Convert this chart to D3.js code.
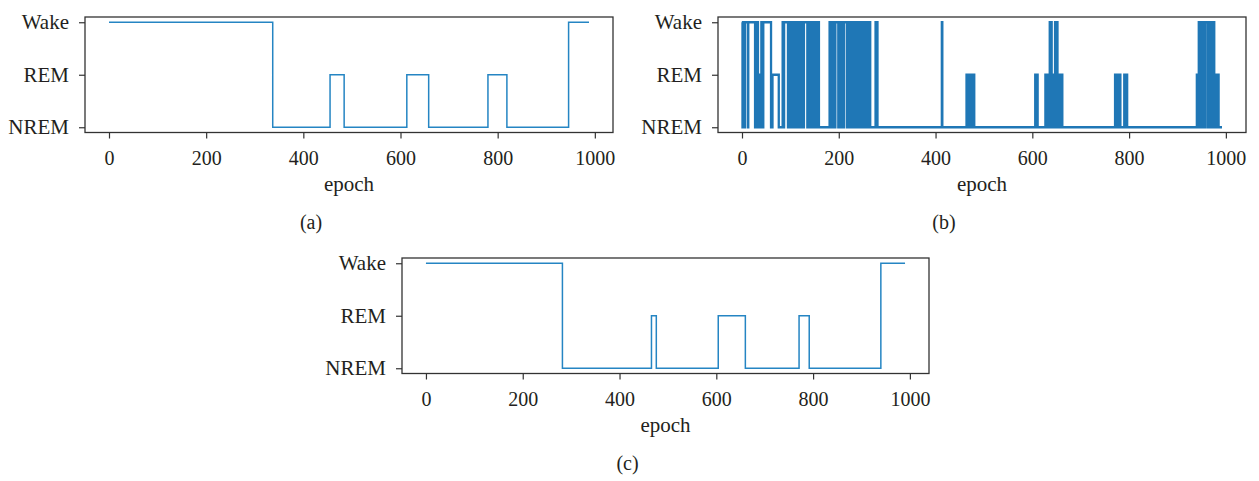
<!DOCTYPE html>
<html>
<head>
<meta charset="utf-8">
<script src="https://cdn.jsdelivr.net/npm/d3@7"></script>
<style>
  html, body { margin: 0; padding: 0; background: #fff; }
  svg { display: block; }
  text { font-family: "Liberation Serif", "Times New Roman", serif; fill: #231f20; }
</style>
</head>
<body>
<svg id="chart" width="1259" height="481"></svg>
<script>
// ---- data ----
const stateLabels = ["NREM", "REM", "Wake"];   // 0, 1, 2
const xTicks = [0, 200, 400, 600, 800, 1000];
const xLabel = "epoch";
const panelLabels = ["(a)", "(b)", "(c)"];

// runs: [start epoch, state index]
const runsA = [[0,2],[337,0],[455,1],[484,0],[613,1],[658,0],[780,1],[819,0],[946,2]];
const endA = 988;

const runsB = [
  [0,2],[1,0],[2,2],[3,0],[4,2],[5,0],[6,2],[12,0],[13,2],[27,0],[30,2],[33,0],[36,1],[38,0],[40,2],[42,0],[44,2],[60,0],[63,1],[76,0],
  [84,2],[86,0],[87,2],[95,0],[96,2],[98,0],[99,2],[101,0],[103,2],[104,0],[106,2],[107,0],[108,2],[109,0],[110,2],[111,0],[112,2],[113,0],[114,2],[118,0],[119,2],[121,0],[122,2],[123,0],[124,2],[125,0],[126,2],[127,0],[128,2],[135,0],[136,2],[137,0],[138,2],[139,0],[140,2],[141,0],[142,2],[143,0],[144,2],[145,0],[146,2],[147,0],[148,2],[149,0],[150,2],[151,0],[152,2],[153,0],[154,2],[155,0],[156,2],[157,0],[158,2],[159,0],
  [181,2],[182,0],[184,2],[186,0],[187,2],[189,0],[190,2],[192,0],[193,2],[199,0],[200,2],[202,0],[203,2],[205,0],[206,2],[207,0],[208,2],[210,0],[211,2],[217,0],[218,2],[219,0],[220,2],[222,0],[223,2],[224,0],[225,2],[226,0],[227,2],[228,0],[229,2],[230,0],[232,2],[233,0],[234,2],[235,0],[236,1],[237,2],[238,0],[239,2],[240,0],[241,2],[242,0],[243,2],[244,0],[245,2],[246,0],[247,2],[248,0],[249,2],[250,0],[251,2],[252,0],[253,2],[255,0],[256,2],[257,0],[258,2],[259,0],[260,2],[261,0],[263,2],[265,0],[276,2],[280,0],
  [413,2],[414,0],
  [464,1],[466,0],[467,1],[468,0],[469,1],[471,0],[472,1],[474,0],[475,1],[477,0],[478,1],[480,0],
  [606,1],[608,0],[609,1],[611,0],
  [627,1],[629,0],[630,1],[632,0],[633,1],[635,0],[636,2],[637,0],[638,2],[640,1],[641,0],[642,1],[644,0],[645,1],[647,2],[648,0],[650,2],[652,1],[653,0],[654,1],[655,0],[656,1],[657,0],[658,1],[660,0],[661,1],[662,0],
  [771,1],[773,0],[774,1],[776,0],[777,1],[779,0],[780,1],[782,0],[790,1],[792,0],[793,1],[796,0],
  [940,1],[942,0],[943,1],[944,2],[945,0],[946,2],[947,0],[948,2],[949,0],[950,2],[951,0],[952,2],[953,0],[954,2],[955,0],[956,2],[957,0],[958,2],[963,0],[964,2],[965,0],[966,2],[967,0],[968,2],[972,0],[973,2],[974,0],[975,2],[976,0],[977,1],[978,0],[979,1],[980,0],[981,1],[983,0],[984,1],[985,0]
];
const endB = 992;

const runsC = [[0,2],[282,0],[466,1],[476,0],[604,1],[660,0],[771,1],[792,0],[940,2]];
const endC = 990;

// ---- layout ----
const panels = [
  { runs: runsA, end: endA, label: panelLabels[0], x0: 85,  x1: 613,  y0: 17,  y1: 132.5, sw: 1.5, color: "#2585c3", labelX: 311 },
  { runs: runsB, end: endB, label: panelLabels[1], x0: 718, x1: 1246, y0: 17,  y1: 132.5, sw: 2.3, color: "#1f77b6", labelX: 944 },
  { runs: runsC, end: endC, label: panelLabels[2], x0: 402, x1: 929,  y0: 258, y1: 373.5, sw: 1.5, color: "#2585c3", labelX: 627.5 }
];

const svg = d3.select("#chart");

panels.forEach(p => {
  const pad = p.end * 0.05;
  const x = d3.scaleLinear().domain([-pad, p.end + pad]).range([p.x0, p.x1]);
  const y = d3.scaleLinear().domain([-0.1, 2.1]).range([p.y1, p.y0]);

  const pts = p.runs.map(r => ({ e: r[0], s: r[1] }));
  pts.push({ e: p.end, s: p.runs[p.runs.length - 1][1] });

  const g = svg.append("g");

  const line = d3.line().x(d => x(d.e)).y(d => y(d.s)).curve(d3.curveStepAfter);
  g.append("path").datum(pts)
    .attr("d", line)
    .attr("fill", "none")
    .attr("stroke", p.color)
    .attr("stroke-width", p.sw)
    .attr("stroke-linejoin", "miter");

  // x axis
  const xa = g.append("g").attr("transform", `translate(0,${p.y1})`)
    .call(d3.axisBottom(x).tickValues(xTicks).tickSize(6).tickPadding(12).tickFormat(d3.format("d")));
  // y axis
  const ya = g.append("g").attr("transform", `translate(${p.x0},0)`)
    .call(d3.axisLeft(y).tickValues([0, 1, 2]).tickSize(6).tickPadding(10).tickFormat(d => stateLabels[d]));

  [xa, ya].forEach(a => {
    a.select(".domain").remove();
    a.selectAll(".tick line").attr("stroke", "#333").attr("stroke-width", 1.2);
    a.selectAll(".tick text").attr("fill", "#231f20")
      .style("font-family", '"Liberation Serif", "Times New Roman", serif');
  });
  xa.selectAll(".tick text").attr("font-size", 20);
  ya.selectAll(".tick text").attr("font-size", 21);

  // frame
  g.append("rect")
    .attr("x", p.x0).attr("y", p.y0)
    .attr("width", p.x1 - p.x0).attr("height", p.y1 - p.y0)
    .attr("fill", "none").attr("stroke", "#333").attr("stroke-width", 1.3);

  // axis label
  g.append("text")
    .attr("x", (p.x0 + p.x1) / 2).attr("y", p.y1 + 58.5)
    .attr("text-anchor", "middle").attr("font-size", 21)
    .text(xLabel);

  // panel label
  g.append("text")
    .attr("x", p.labelX).attr("y", p.y1 + 96.5)
    .attr("text-anchor", "middle").attr("font-size", 20)
    .text(p.label);
});
</script>
</body>
</html>
